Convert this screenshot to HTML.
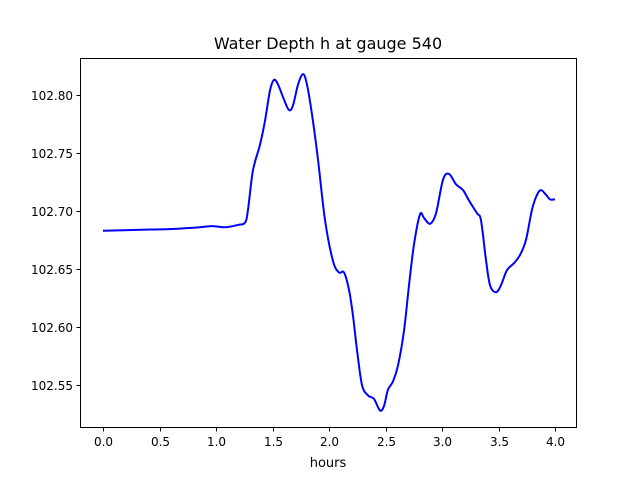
<!DOCTYPE html>
<html><head><meta charset="utf-8"><style>
html,body{margin:0;padding:0;background:#fff}
svg{display:block;font-family:"DejaVu Sans","Liberation Sans",sans-serif}
</style></head><body>
<svg width="640" height="480" viewBox="0 0 640 480" id="chart">
<rect width="640" height="480" fill="#fff"/>
<text x="328" y="49" text-anchor="middle" font-size="16">Water Depth h at gauge 540</text>
<text x="328" y="467" text-anchor="middle" font-size="13">hours</text>
<g id="ticks"></g>
<path id="line" fill="none" stroke="#0000ff" stroke-width="2" stroke-linejoin="round"/>
<rect x="80.5" y="58.5" width="496" height="369" fill="none" stroke="#000" stroke-width="1"/>
</svg>
<script>
const hours=[0,0.416,0.611,0.858,0.965,1.080,1.195,1.257,1.283,1.327,1.389,1.434,1.478,1.513,1.549,1.602,1.646,1.681,1.726,1.770,1.805,1.850,1.903,1.965,2.035,2.088,2.133,2.177,2.212,2.248,2.292,2.345,2.398,2.451,2.487,2.522,2.566,2.611,2.664,2.708,2.752,2.805,2.841,2.894,2.947,3.009,3.062,3.124,3.186,3.239,3.310,3.345,3.389,3.425,3.478,3.522,3.575,3.637,3.690,3.743,3.796,3.841,3.876,3.920,3.956,4.0];
const depth=[102.683,102.684,102.6845,102.686,102.687,102.686,102.688,102.690,102.701,102.735,102.757,102.778,102.804,102.813,102.809,102.796,102.787,102.791,102.809,102.818,102.809,102.783,102.744,102.692,102.657,102.647,102.647,102.632,102.610,102.580,102.550,102.541,102.538,102.528,102.532,102.546,102.553,102.567,102.597,102.636,102.671,102.697,102.694,102.689,102.698,102.727,102.732,102.723,102.718,102.709,102.698,102.692,102.658,102.636,102.630,102.636,102.649,102.655,102.662,102.675,102.701,102.714,102.718,102.714,102.710,102.710];
const xTicks=[0,0.5,1,1.5,2,2.5,3,3.5,4];
const xTickLabels=["0.0","0.5","1.0","1.5","2.0","2.5","3.0","3.5","4.0"];
const yTicks=[102.55,102.60,102.65,102.70,102.75,102.80];
const yTickLabels=["102.55","102.60","102.65","102.70","102.75","102.80"];
const X=v=>103+v*113;
const Y=v=>95+(102.80-v)*1160;
const NS="http://www.w3.org/2000/svg";
const g=document.getElementById('ticks');
function mk(t,a){const e=document.createElementNS(NS,t);for(const k in a)e.setAttribute(k,a[k]);return e;}
xTicks.forEach((v,i)=>{
 const x=Math.round(X(v))+0.5;
 const l=mk('line',{x1:x,x2:x,y1:427.5,y2:431.5,stroke:'#000'});
 
 
 g.appendChild(l);
 const t=mk('text',{x:x,y:446,'text-anchor':'middle','font-size':'12'});
 
 
 t.textContent=xTickLabels[i];g.appendChild(t);
});
yTicks.forEach((v,i)=>{
 const y=Math.round(Y(v))+0.5;
 const l=mk('line',{x1:76.5,x2:80.5,y1:y,y2:y,stroke:'#000'});
 
 
 g.appendChild(l);
 const t=mk('text',{x:73,y:y+4.5,'text-anchor':'end','font-size':'12'});
 
 
 t.textContent=yTickLabels[i];g.appendChild(t);
});
const pts=hours.map((h,i)=>[X(h),Y(depth[i])]);
let d='M'+pts[0][0]+','+pts[0][1];
for(let i=0;i<pts.length-1;i++){
 const p0=pts[Math.max(0,i-1)],p1=pts[i],p2=pts[i+1],p3=pts[Math.min(pts.length-1,i+2)];
 const c1=[p1[0]+(p2[0]-p0[0])/6,p1[1]+(p2[1]-p0[1])/6];
 const c2=[p2[0]-(p3[0]-p1[0])/6,p2[1]-(p3[1]-p1[1])/6];
 d+=' C'+c1.join(',')+' '+c2.join(',')+' '+p2.join(',');
}
document.getElementById('line').setAttribute('d',d);
</script>
</body></html>
